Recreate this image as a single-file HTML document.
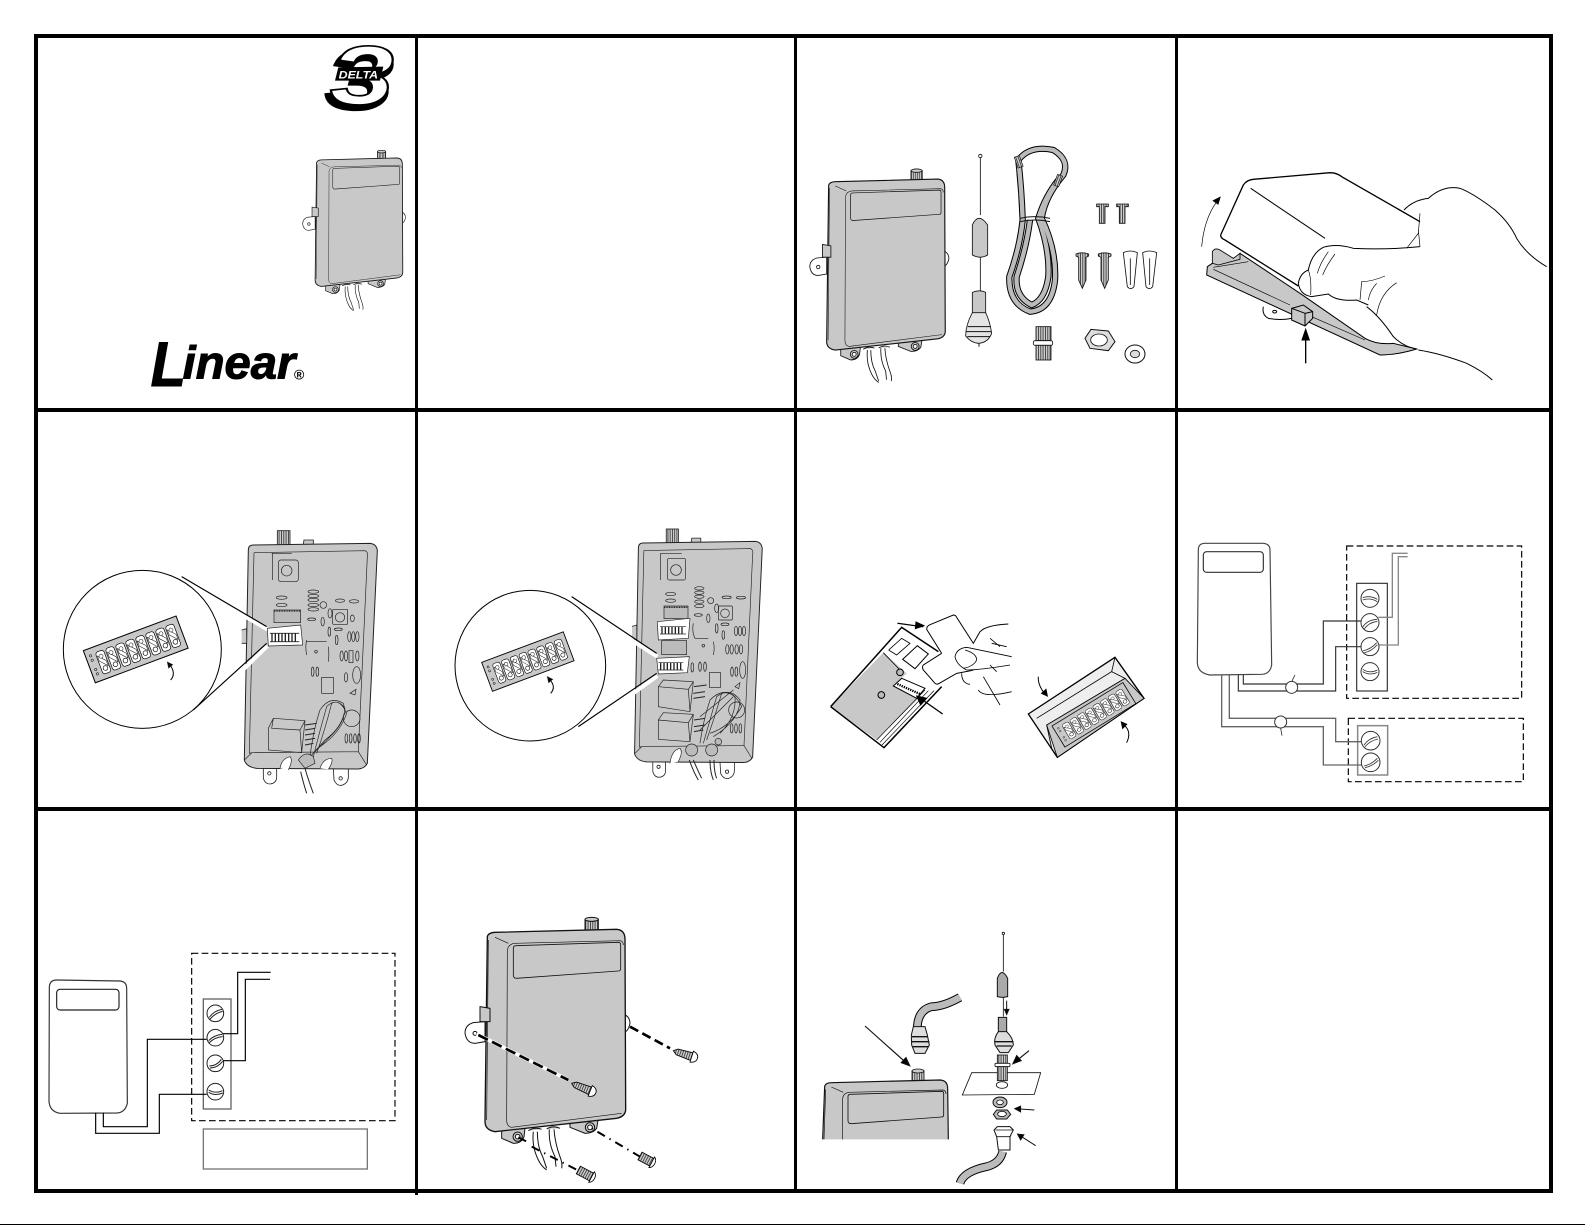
<!DOCTYPE html>
<html><head><meta charset="utf-8"><title>Diagram</title>
<style>html,body{margin:0;padding:0;background:#fff;width:1585px;height:1225px;overflow:hidden}svg{display:block;overflow:hidden}text{font-family:"Liberation Sans",sans-serif}</style></head>
<body>
<svg xmlns="http://www.w3.org/2000/svg" width="1585" height="1225" viewBox="0 0 1585 1225">
<defs>
<pattern id="h" width="7" height="7" patternUnits="userSpaceOnUse"><rect width="7" height="7" fill="#ccc"/><rect width="2.5" height="7" fill="#333"/></pattern>
<g id="dev" fill="none" stroke="#111" stroke-width="3">
 <path d="M105,365L70,368Q45,375 45,400Q50,430 75,430L105,425Z" fill="#fff"/>
 <circle cx="75" cy="400" r="6" fill="#fff"/>
 <path d="M520,342Q540,350 540,370Q535,395 520,398Z" fill="#fff"/>
 <path d="M155,690L155,715L190,730Q215,730 222,710L225,685Z" fill="#c8c8c8"/>
 <path d="M360,665L360,682L405,700Q430,700 440,685L445,655Z" fill="#c8c8c8"/>
 <path d="M250,695Q245,740 265,780Q275,800 290,810M262,695Q262,740 278,770Q285,790 290,805M298,688Q295,730 315,770L318,800M312,688Q315,730 330,770Q338,790 335,805" stroke-width="3"/>
 <rect x="405" y="58" width="40" height="42" fill="url(#h)"/>
 <ellipse cx="425" cy="58" rx="20" ry="6" fill="#ccc"/>
 <path d="M112,110Q115,98 135,97L500,88Q525,90 525,118L527,630Q525,650 500,655L135,695Q105,690 105,665Z" fill="#c8c8c8" stroke-width="4"/>
 <path d="M172,150Q175,132 195,130L510,122Q520,124 520,135M172,150L170,660Q170,680 185,682L515,640M135,112L175,130M115,120L110,660" stroke-width="2"/>
 <path d="M190,145Q190,137 198,137L505,127Q512,127 512,135L512,205Q512,213 505,213L200,235Q190,235 190,225Z" stroke-width="2.5"/>
 <path d="M90,320L120,325L120,365L90,365Z" fill="#c8c8c8"/>
 <circle cx="203" cy="710" r="14" fill="#c8c8c8"/><circle cx="203" cy="710" r="7" fill="#fff"/>
 <circle cx="420" cy="682" r="14" fill="#c8c8c8"/><circle cx="420" cy="682" r="7" fill="#fff"/>
 <path d="M235,692Q255,680 275,688M290,687Q310,675 330,685" fill="#c8c8c8"/>
</g>
<g id="sw">
 <rect x="-1" y="0" width="26" height="70" rx="8" fill="#fff" stroke="#000" stroke-width="2"/>
 <path d="M2,12L22,34L22,50L2,28Z" fill="#fff" stroke="#000" stroke-width="1.5"/>
 <circle cx="12" cy="54" r="7" fill="#fff" stroke="#000" stroke-width="2"/>
 <circle cx="12" cy="16" r="6" fill="#fff" stroke="#000" stroke-width="1.5"/>
</g>
<g id="strip">
 <rect x="0" y="0" width="297" height="103" fill="#c8c8c8" stroke="#000" stroke-width="3"/>
 <circle cx="15" cy="22" r="3.5" fill="none" stroke="#000" stroke-width="1.5"/><circle cx="15" cy="36" r="3.5" fill="none" stroke="#000" stroke-width="1.5"/><circle cx="15" cy="66" r="3.5" fill="none" stroke="#000" stroke-width="1.5"/><circle cx="15" cy="80" r="3.5" fill="none" stroke="#000" stroke-width="1.5"/>
 <use href="#sw" x="32" y="18"/><use href="#sw" x="64" y="18"/><use href="#sw" x="96" y="18"/><use href="#sw" x="128" y="18"/><use href="#sw" x="160" y="18"/><use href="#sw" x="192" y="18"/><use href="#sw" x="224" y="18"/><use href="#sw" x="256" y="18"/>
</g>
<g id="shell" fill="none" stroke="#222" stroke-width="2.5">
 <rect x="682" y="2" width="38" height="45" fill="url(#h)"/>
 <path d="M760,42L762,30L790,30L790,42" fill="#c8c8c8"/>
 <path d="M640,712L640,745Q645,762 660,762Q680,760 680,740L680,712Z" fill="#fff"/><circle cx="658" cy="730" r="5" fill="#fff"/>
 <path d="M850,715L852,750Q860,768 875,766Q895,760 895,740L895,712Z" fill="#fff"/><circle cx="872" cy="745" r="5" fill="#fff"/>
 <path d="M595,60Q595,45 610,45L960,40Q980,42 982,62L952,700Q945,715 925,717L620,715Q590,712 583,690Z" fill="#c8c8c8" stroke-width="3"/>
 <path d="M612,68L945,62Q955,66 952,80L925,665L606,668L597,670M612,68L598,670M606,668L583,690M925,665L950,705" stroke-width="2"/>
 <path d="M575,300L590,296L590,340L575,340" fill="#c8c8c8"/>
</g>
</defs>
<rect width="1585" height="1225" fill="#fff"/>

<!-- Panel 1 -->
<g transform="translate(40,30) scale(.33333)">
 <use href="#dev" transform="translate(760,328) scale(.623,.635)"/>
 <text x="858" y="235" font-size="250" font-weight="bold" font-style="italic" textLength="200" lengthAdjust="spacingAndGlyphs" fill="#000" stroke="#000" stroke-width="10">3</text>
 <text x="870" y="222" font-size="250" font-weight="bold" font-style="italic" textLength="192" lengthAdjust="spacingAndGlyphs" fill="#fff" stroke="#000" stroke-width="5">3</text>
 <path d="M895,112L1030,110L1020,152L885,152Z" fill="#000"/>
 <text x="896" y="146" font-size="33" font-weight="bold" font-style="italic" textLength="118" lengthAdjust="spacingAndGlyphs" fill="#fff">DELTA</text>
 <text x="332" y="1068" font-size="190" font-weight="bold" font-style="italic" textLength="106" lengthAdjust="spacingAndGlyphs" stroke="#000" stroke-width="3">L</text>
 <text x="428" y="1046" font-size="140" font-weight="bold" font-style="italic" textLength="338" lengthAdjust="spacingAndGlyphs" stroke="#000" stroke-width="3">inear</text>
 <text x="762" y="1048" font-size="42" font-weight="bold">®</text>
</g>

<!-- Panel 3 -->
<g transform="translate(800,130) scale(.33333)" fill="none" stroke="#111" stroke-width="2.5">
 <use href="#dev" transform="translate(-8.5,73) scale(.843,.845)"/>
 <circle cx="541" cy="78" r="5"/><path d="M541,84V255M541,380V485"/>
 <path d="M517,375V285Q535,245 563,285V375Q541,388 517,375Z" fill="#c8c8c8"/>
 <path d="M517,550V487Q540,478 557,487V550Z" fill="#c8c8c8"/>
 <path d="M517,548Q497,585 497,618Q515,640 537,640Q565,637 575,610Q570,575 557,548Z" fill="#e4e4e4"/>
 <path d="M503,590L570,590M498,605L574,605M502,620L570,620M537,640V650" stroke-width="3"/>
 <g stroke="#000" stroke-width="19"><path d="M655,90Q690,45 760,60Q810,90 790,135Q735,200 725,265Q770,360 765,450Q755,540 690,545Q625,520 628,440Q660,350 668,270Q665,180 655,90Z"/><path d="M775,150Q735,200 715,265Q750,360 745,440Q735,510 695,525Q645,500 650,440Q680,350 690,270"/></g>
 <g stroke="#bbb" stroke-width="13"><path d="M655,90Q690,45 760,60Q810,90 790,135Q735,200 725,265Q770,360 765,450Q755,540 690,545Q625,520 628,440Q660,350 668,270Q665,180 655,90Z"/><path d="M775,150Q735,200 715,265Q750,360 745,440Q735,510 695,525Q645,500 650,440Q680,350 690,270"/></g>
 <path d="M660,265Q705,255 750,265M660,275Q705,265 750,275" stroke-width="3"/>
 <rect x="648" y="78" width="16" height="34" fill="url(#h)" stroke-width="2" transform="rotate(-20 657 95)"/>
 <rect x="767" y="135" width="16" height="34" fill="url(#h)" stroke-width="2" transform="rotate(20 775 150)"/>
 <path d="M890,222H925V230H915V280H898V230H890Z" fill="url(#h)"/><path d="M950,222H985V230H975V280H958V230H950Z" fill="url(#h)"/>
 <path d="M828,372Q845,365 866,372V378L858,382V450L847,475L836,450V382L828,378Z" fill="url(#h)"/>
 <path d="M895,372Q912,365 933,372V378L925,382V450L914,475L903,450V382L895,378Z" fill="url(#h)"/>
 <path d="M970,368Q990,358 1012,368L1002,470Q992,482 982,470Z" fill="#fff"/><path d="M991,385V465"/>
 <path d="M1028,368Q1048,358 1070,368L1058,470Q1048,482 1038,470Z" fill="#fff"/><path d="M1049,385V465"/>
 <rect x="708" y="590" width="45" height="42" fill="url(#h)"/><rect x="700" y="632" width="58" height="14" rx="5" fill="#fff"/><rect x="708" y="646" width="45" height="44" fill="url(#h)"/>
 <path d="M873,598L925,603L945,635L925,662L870,655L855,625Z" fill="#ddd" stroke-width="3"/><ellipse cx="897" cy="630" rx="25" ry="18" fill="#fff"/>
 <ellipse cx="1005" cy="672" rx="30" ry="27" fill="#fff" stroke-width="3"/><ellipse cx="1005" cy="672" rx="14" ry="11" fill="#ddd"/>
</g>

<!-- Panel 4 -->
<g transform="translate(1180,150) scale(.33333)" fill="none" stroke="#000" stroke-width="3">
 <path d="M82,350L80,375L600,615Q650,615 710,597L640,580Q590,585 555,565L360,430L180,310L165,325L120,320L97,340Z" fill="#c8c8c8"/>
 <path d="M97,340L97,305Q105,292 120,300L160,325L180,310L180,328L115,345Z" fill="#c8c8c8" stroke-width="2.5"/>
 <path d="M100,352L205,335M100,358L330,465M395,500L555,570" stroke-width="2"/>
 <path d="M250,470Q245,495 265,505Q300,512 335,505" fill="#fff"/><ellipse cx="284" cy="485" rx="6" ry="4"/>
 <path d="M335,475L370,465L398,485V505L375,528L335,510Z" fill="#c8c8c8" stroke-width="3"/><path d="M335,475L375,490V528M375,490L398,485"/>
 <path d="M122,255L190,105Q200,90 220,88L450,68Q470,68 485,80L720,215M122,255Q122,265 135,270L355,408" stroke-width="4"/>
 <path d="M212,115L435,265"/>
 <path d="M672,180Q700,150 745,145Q790,105 840,115Q880,130 945,180Q990,220 1010,265Q1040,315 1100,350M715,600Q780,610 860,640Q910,665 937,690M560,470Q600,500 640,560Q670,590 710,597"/>
 <path d="M720,290Q620,300 520,295Q470,280 430,292Q395,310 385,360Q360,370 355,400Q360,435 395,440L445,432Q470,455 530,450L565,465"/>
 <path d="M720,190L715,250L680,295M715,240L720,290M445,305Q420,340 412,370M465,312Q440,345 428,375M385,360Q395,385 392,435M615,378Q575,395 545,395L540,450M650,398Q600,430 590,495M590,400Q570,420 565,450" stroke-width="2"/>
 <path d="M377,640V565" stroke-width="4"/><path d="M377,538L366,570H388Z" fill="#000"/>
 <path d="M65,290Q72,210 108,158" stroke-width="2"/><path d="M120,142L100,152L114,162Z" fill="#000"/>
</g>

<!-- Panel 5 -->
<g transform="translate(50,530) scale(.33333)" fill="none" stroke="#222" stroke-width="2">
 <use href="#shell"/>
 <g>
  <rect x="685" y="90" width="60" height="65" rx="8" fill="#c8c8c8"/><circle cx="710" cy="122" r="16"/><path d="M665,70H725M668,70V150"/>
  <rect x="672" y="240" width="80" height="38" fill="#bbb"/><path d="M672,243H752" stroke-dasharray="3,2" stroke-width="4"/>
  <ellipse cx="695" cy="203" rx="16" ry="5"/><ellipse cx="695" cy="225" rx="16" ry="5"/>
  <ellipse cx="790" cy="185" rx="16" ry="5"/><ellipse cx="790" cy="198" rx="16" ry="5"/><ellipse cx="790" cy="210" rx="16" ry="5"/><ellipse cx="790" cy="225" rx="16" ry="5"/><ellipse cx="790" cy="238" rx="16" ry="5"/>
  <rect x="848" y="238" width="45" height="45" rx="3"/><circle cx="870" cy="262" r="14"/><circle cx="820" cy="225" r="10"/><ellipse cx="840" cy="250" rx="6" ry="14"/><ellipse cx="907" cy="265" rx="6" ry="10"/>
  <ellipse cx="870" cy="212" rx="14" ry="5"/><ellipse cx="912" cy="214" rx="14" ry="5"/><ellipse cx="785" cy="268" rx="12" ry="4"/><ellipse cx="818" cy="275" rx="5" ry="13"/>
  <ellipse cx="838" cy="305" rx="4" ry="14"/><ellipse cx="860" cy="330" rx="4" ry="14"/><ellipse cx="865" cy="298" rx="12" ry="4"/>
  <ellipse cx="898" cy="320" rx="5" ry="15"/><ellipse cx="910" cy="320" rx="5" ry="15"/><ellipse cx="922" cy="320" rx="5" ry="15"/>
  <ellipse cx="875" cy="378" rx="5" ry="15"/><ellipse cx="888" cy="378" rx="5" ry="15"/><rect x="897" y="362" width="12" height="36"/><ellipse cx="922" cy="378" rx="5" ry="15"/>
  <ellipse cx="788" cy="425" rx="4" ry="14"/><ellipse cx="802" cy="425" rx="4" ry="14"/>
  <path d="M770,330Q765,350 770,375M835,350Q838,370 835,395M770,335H830"/><circle cx="798" cy="365" r="4"/>
  <rect x="815" y="442" width="35" height="48"/><ellipse cx="888" cy="442" rx="5" ry="14"/><ellipse cx="920" cy="435" rx="12" ry="25"/><path d="M900,490L918,478L915,495Z"/>
  <ellipse cx="889" cy="625" rx="4" ry="14"/><ellipse cx="902" cy="625" rx="4" ry="14"/><ellipse cx="915" cy="625" rx="4" ry="14"/><ellipse cx="927" cy="625" rx="4" ry="14"/>
  <path d="M655,595L670,565L765,572L755,668L655,660ZM670,565L665,595L750,600L755,668M750,600L765,572"/>
  <path d="M765,585L800,580M765,600L795,595M765,615L795,610M765,630L795,625M765,645L790,640" stroke-width="3"/>
  <path d="M780,680Q790,600 810,540Q840,495 880,520Q895,560 850,610L790,670M790,680Q810,600 830,530Q860,500 885,535Q880,590 825,630L785,675M800,670Q825,600 845,520Q870,505 890,550Q870,610 810,650" fill="none"/><circle cx="905" cy="565" r="25"/>
  <path d="M745,690Q765,660 790,680L795,700L765,715Z" fill="#bbb"/><path d="M765,715Q775,750 790,790M752,725Q760,760 770,790" stroke-width="3"/>
  <path d="M690,715Q695,685 720,680Q730,690 715,720M810,715Q820,685 845,685Q850,695 835,718" fill="#fff"/>
 </g>
 <path d="M430,170L652,298M450,545L652,348" stroke="#fff" stroke-width="12"/>
 <path d="M395,140L650,290M430,540L650,340" stroke="#000" stroke-width="3.5"/>
 <circle cx="277" cy="358" r="237" fill="#fff" stroke="#000" stroke-width="3"/>
 <path d="M652,295L752,285L758,345L655,348Z" fill="#fff"/>
 <g stroke-width="2.5"><path d="M660,310H748M660,335H748"/><path d="M666,310V335M676,310V335M686,310V335M696,310V335M706,310V335M716,310V335M726,310V335M736,310V335" stroke-width="4"/></g>
 <use href="#strip" transform="translate(100,362) rotate(-20.5)"/>
 <path d="M362,450Q380,430 358,402" stroke="#000" stroke-width="3"/><path d="M352,396L368,404L356,414Z" fill="#000"/>
</g>

<!-- Panel 6 -->
<g transform="translate(440,530) scale(.33333)" fill="none" stroke="#222" stroke-width="2">
 <use href="#shell" transform="translate(24,-5) scale(.96,.98)"/>
 <rect x="682" y="85" width="55" height="65" rx="6" fill="#c8c8c8"/><circle cx="708" cy="120" r="16"/><path d="M660,70H725M662,72V150"/>
 <rect x="672" y="228" width="72" height="38" fill="#bbb"/><path d="M672,232H744" stroke-dasharray="3,2" stroke-width="4"/>
 <rect x="665" y="332" width="75" height="42" fill="#bbb"/>
 <path d="M652,275L750,265L745,325L655,330Z" fill="#fff"/><path d="M660,290H738M660,312H738"/><path d="M666,290V312M676,290V312M686,290V312M696,290V312M706,290V312M716,290V312M726,290V312" stroke-width="4"/>
 <ellipse cx="692" cy="192" rx="15" ry="5"/><ellipse cx="692" cy="212" rx="15" ry="5"/>
 <ellipse cx="778" cy="175" rx="14" ry="5"/><ellipse cx="778" cy="188" rx="14" ry="5"/><ellipse cx="778" cy="200" rx="14" ry="5"/><ellipse cx="778" cy="215" rx="14" ry="5"/><ellipse cx="778" cy="228" rx="14" ry="5"/>
 <rect x="835" y="228" width="42" height="42" rx="3"/><circle cx="855" cy="250" r="13"/><circle cx="812" cy="212" r="9"/><ellipse cx="830" cy="235" rx="6" ry="13"/>
 <ellipse cx="860" cy="202" rx="14" ry="4"/><ellipse cx="903" cy="203" rx="14" ry="4"/><ellipse cx="775" cy="255" rx="12" ry="4"/><ellipse cx="805" cy="265" rx="5" ry="13"/><ellipse cx="830" cy="295" rx="4" ry="14"/><ellipse cx="850" cy="315" rx="4" ry="13"/><ellipse cx="855" cy="283" rx="12" ry="4"/>
 <ellipse cx="888" cy="303" rx="5" ry="14"/><ellipse cx="900" cy="303" rx="5" ry="14"/><ellipse cx="912" cy="303" rx="5" ry="14"/>
 <ellipse cx="862" cy="358" rx="5" ry="14"/><ellipse cx="875" cy="358" rx="5" ry="14"/><ellipse cx="890" cy="358" rx="5" ry="14"/><ellipse cx="903" cy="358" rx="5" ry="14"/>
 <ellipse cx="876" cy="425" rx="4" ry="14"/><ellipse cx="889" cy="425" rx="4" ry="14"/><ellipse cx="908" cy="420" rx="9" ry="25"/>
 <path d="M760,280Q755,305 765,325H805M820,335Q825,355 820,375"/><circle cx="790" cy="347" r="4"/>
 <rect x="808" y="428" width="34" height="44"/><path d="M885,470L900,458L896,476Z"/>
 <ellipse cx="757" cy="412" rx="4" ry="14"/><ellipse cx="780" cy="410" rx="4" ry="14"/><ellipse cx="795" cy="410" rx="4" ry="14"/>
 <path d="M655,470L670,450L760,455L750,545L655,530Z M655,470L745,478L750,545M745,478L760,455"/>
 <path d="M655,570L670,548L760,553L750,635L655,628Z M655,570L745,578L750,635M745,578L760,553"/>
 <path d="M762,470L800,465M760,490L795,485M760,505L795,500M762,570L795,565M762,590L795,585M762,605L790,600" stroke-width="3"/>
 <path d="M780,640Q790,570 810,510Q850,470 885,500Q890,560 840,610M790,640Q810,570 830,500Q870,470 900,510Q900,570 820,620M800,630Q825,560 845,490Q880,480 905,530Q870,590 810,610M780,560L880,480M780,600L880,500"/><circle cx="890" cy="540" r="24"/>
 <ellipse cx="875" cy="595" rx="4" ry="14"/><ellipse cx="888" cy="595" rx="4" ry="14"/><ellipse cx="901" cy="595" rx="4" ry="14"/>
 <circle cx="755" cy="660" r="18" fill="#bbb"/><circle cx="815" cy="660" r="18" fill="#bbb"/><circle cx="835" cy="635" r="10" fill="#bbb"/>
 <path d="M748,690Q760,725 775,750M760,690Q775,725 785,745M810,690Q810,725 820,750M822,690Q822,725 830,745" stroke-width="3"/>
 <path d="M690,700Q695,660 720,655Q730,665 715,695" fill="#fff"/>
 <path d="M425,235L652,380M440,590L652,438" stroke="#fff" stroke-width="12"/>
 <path d="M395,200L650,370M415,590L650,430" stroke="#000" stroke-width="3.5"/>
 <circle cx="271" cy="407" r="226" fill="#fff" stroke="#000" stroke-width="3"/>
 <path d="M650,385L748,380L742,428L655,432Z" fill="#fff"/><path d="M655,398H730M655,420H730"/><path d="M662,398V420M672,398V420M682,398V420M692,398V420M702,398V420M712,398V420M722,398V420" stroke-width="4"/>
 <use href="#strip" transform="translate(125,397) rotate(-20.5) scale(.88,.9)"/>
 <path d="M332,490Q350,470 328,448" stroke="#000" stroke-width="3"/><path d="M322,440L338,448L326,458Z" fill="#000"/>
</g>

<!-- Panel 7 -->
<g transform="translate(810,590) scale(.33333)" fill="none" stroke="#000" stroke-width="3">
 <path d="M62,350L220,188L290,250L250,288L322,328L200,450Z" fill="#c8c8c8" stroke="none"/>
 <path d="M62,350L275,112L385,185M395,290L222,473L62,350" stroke-width="4.5"/>
 <path d="M200,450L345,300M210,457L355,302M216,465L372,302" stroke-width="2"/>
 <path d="M220,188L270,240M236,180L275,145L300,160L260,195L236,180" stroke-width="2.5"/>
 <path d="M278,208L322,167L355,192L315,236Z" stroke-width="3"/>
 <circle cx="270" cy="247" r="10" fill="#bbb"/><circle cx="214" cy="315" r="10" fill="#bbb"/>
 <path d="M250,288L275,265L345,295L320,325Z" fill="#fff"/><path d="M262,282L330,312" stroke-width="7" stroke-dasharray="4,3"/>
 <path d="M262,105L340,105" stroke-width="3.5" transform="rotate(8 300 105)"/><path d="M342,107L318,96L316,116Z" fill="#000"/>
 <path d="M398,372L338,330" stroke-width="4"/><path d="M320,318L332,345L350,325Z" fill="#000"/>
 <path d="M350,118Q350,108 360,104L430,75Q437,75 440,82L490,160L510,125Q530,105 595,102M395,190L340,225Q335,232 340,240L375,280Q380,285 388,280L440,250Q470,245 490,240M350,118L395,190" fill="#fff" stroke-width="3"/>
 <path d="M470,240Q440,225 435,200Q440,175 470,172L605,200M470,240Q510,240 600,225M465,180Q500,190 500,210Q490,230 460,235M540,145L570,170M545,160L590,170M540,225L560,245M520,260L570,345M505,300Q520,325 605,305M455,250Q455,280 480,283" stroke-width="2.5"/>
 <path d="M655,372L915,202L1002,325L742,502Z" fill="#eee" stroke-width="4"/>
 <path d="M710,405L945,265L1002,325L742,502Z" fill="#c8c8c8" stroke-width="2.5"/>
 <path d="M680,385L905,245L915,202M905,245L945,265M710,405L725,475L742,502" stroke-width="2.5"/>
 <use href="#strip" transform="translate(726,408) rotate(-31.5) scale(.84,.72)" opacity=".95"/>
 <path d="M685,260Q683,285 705,312" stroke-width="3"/><path d="M712,318L695,310L708,298Z" fill="#000"/>
 <path d="M950,458Q966,425 942,405" stroke-width="3"/><path d="M934,396L950,403L938,415Z" fill="#000"/>
</g>

<!-- Panel 8 -->
<g transform="translate(1180,530) scale(.33333)" fill="none" stroke="#333" stroke-width="3.5">
 <path d="M55,60Q55,40 75,40L250,40Q270,42 270,60L275,405Q270,432 245,433L90,435Q55,430 52,400Z" stroke="#444"/>
 <rect x="70" y="65" width="180" height="62" rx="10"/>
 <rect x="500" y="48" width="525" height="457" stroke="#000" stroke-dasharray="20,10"/>
 <rect x="505" y="565" width="525" height="190" stroke="#000" stroke-dasharray="20,10"/>
 <rect x="530" y="160" width="92" height="323"/>
 <rect x="533" y="587" width="90" height="148" stroke="#888" stroke-width="4.5"/>
 <path d="M175,435V483H467V350H545M190,435V462H430V273H545"/>
 <path d="M125,435V590H430V705H545M148,435V565H467V635H545" stroke="#666" stroke-width="4"/>
 <path d="M595,262H637V70H683M597,345H655V80H683" stroke="#888" stroke-width="4"/>
 <g fill="#fff" stroke="#333" stroke-width="3">
  <circle cx="570" cy="205" r="27"/><circle cx="570" cy="278" r="27"/><circle cx="570" cy="350" r="27"/><circle cx="570" cy="425" r="27"/>
  <circle cx="572" cy="632" r="28"/><circle cx="572" cy="697" r="28"/>
  <circle cx="335" cy="472" r="18"/><circle cx="302" cy="576" r="18"/>
 </g>
 <g stroke-width="2.5">
  <path d="M548,203Q570,195 592,208M548,210Q570,202 592,215"/><path d="M548,292Q560,270 592,268M552,298Q565,278 592,274"/><path d="M550,362Q572,358 590,338M553,368Q575,364 592,344"/><path d="M548,418Q570,432 592,420M548,425Q570,438 592,427"/>
  <path d="M552,645Q565,625 592,620M555,650Q570,632 594,627"/><path d="M552,708Q575,703 592,685M555,713Q578,708 595,691"/>
  <path d="M335,455L345,435M302,595L306,617"/>
 </g>
</g>

<!-- Panel 9 -->
<g transform="translate(40,930) scale(.33333)" fill="none" stroke="#222" stroke-width="3.5">
 <path d="M28,170Q30,150 50,150L240,153Q260,155 260,175L262,520Q255,548 230,549L60,550Q30,545 27,515Z" stroke="#333"/>
 <rect x="50" y="178" width="187" height="62" rx="10"/>
 <rect x="455" y="70" width="610" height="502" stroke="#000" stroke-dasharray="20,10"/>
 <rect x="490" y="207" width="83" height="330" stroke="#666" stroke-width="4"/>
 <path d="M190,548V590H322V328H500M167,548V610H358V493H500M545,311H593V127H692M548,392H616V148H690" stroke="#000"/>
 <rect x="490" y="597" width="492" height="120" stroke="#777" stroke-width="4"/>
 <g fill="#fff" stroke="#222" stroke-width="3"><circle cx="526" cy="250" r="25"/><circle cx="526" cy="323" r="25"/><circle cx="526" cy="400" r="25"/><circle cx="526" cy="485" r="25"/></g>
 <g stroke-width="3"><path d="M508,262Q522,242 546,238M510,268Q526,248 548,244"/><path d="M506,332Q522,315 546,313M508,338Q524,322 548,320"/><path d="M508,408Q530,408 544,388M510,414Q532,414 548,394"/><path d="M506,480Q526,492 548,482M506,487Q526,499 548,489"/></g>
</g>

<!-- Panel 10 -->
<g transform="translate(450,900) scale(.33333)" fill="none" stroke="#000" stroke-width="2.5">
 <use href="#dev"/>
 <path d="M80,402L355,540" stroke="#fff" stroke-width="11"/>
 <path d="M85,405L355,540" stroke-width="8" stroke-dasharray="32,14"/>
 <path d="M540,380L660,445" stroke-width="8" stroke-dasharray="28,14"/>
 <path d="M205,712L240,730M245,740L405,822" stroke-width="6" stroke-dasharray="26,16,4,16"/>
 <path d="M425,685L570,770" stroke-width="6" stroke-dasharray="4,16,26,16"/>
 <g transform="translate(365,550) rotate(22)"><path d="M0,0L12,-9L60,-12V12L12,9Z" fill="url(#h)"/><path d="M60,-17Q78,-14 78,0Q78,14 60,17Z" fill="#fff"/></g>
 <g transform="translate(670,452) rotate(18)"><path d="M0,0L12,-9L58,-12V12L12,9Z" fill="url(#h)"/><path d="M58,-17Q76,-14 76,0Q76,14 58,17Z" fill="#fff"/></g>
 <g transform="translate(570,768) rotate(28)"><path d="M0,-13L40,-13V13L0,13Z" fill="url(#h)"/><path d="M40,-18Q50,-13 50,0Q50,13 40,18Z" fill="#fff"/></g>
 <g transform="translate(385,810) rotate(28)"><path d="M0,-13L45,-13V13L0,13Z" fill="url(#h)"/><path d="M45,-18Q55,-13 55,0Q55,13 45,18Z" fill="#fff"/></g>
</g>

<!-- Panel 11 -->
<g transform="translate(800,910) scale(.33333)" fill="none" stroke="#111" stroke-width="2.5">
 <rect x="336" y="483" width="36" height="38" fill="url(#h)"/><ellipse cx="354" cy="483" rx="18" ry="6" fill="#ccc"/>
 <path d="M68,688L74,529Q77,518 94,518L420,510Q443,511 443,536L445,688Z" fill="#c8c8c8" stroke="none"/>
 <path d="M68,688L74,529Q77,518 94,518L420,510Q443,511 443,536L445,688" stroke-width="3.5"/>
 <path d="M128,688V565Q130,549 148,547L429,540Q438,542 438,552M94,531L130,547M77,538L72,688" stroke-width="2"/>
 <path d="M144,560Q144,553 151,553L425,544Q431,544 431,551L431,614Q431,621 425,621L153,641Q144,641 144,632Z" stroke-width="2.5"/>
 <path d="M195,348L318,458" stroke-width="3.5"/><path d="M330,468L318,442L303,458Z" fill="#000"/>
 <path d="M480,262Q430,290 395,290Q355,300 352,350" stroke="#000" stroke-width="26"/><path d="M480,262Q430,290 395,290Q355,300 352,350" stroke="#bbb" stroke-width="20"/>
 <path d="M340,350H375L382,375L388,405L375,430H345L335,405L334,375Z" fill="#ddd" stroke-width="3"/><path d="M336,380H384M334,395H388M338,410H384" stroke-width="4"/>
 <circle cx="610" cy="70" r="3.5"/><path d="M610,74V185M610,260V320"/>
 <path d="M592,260V205Q605,170 623,205V260Q607,264 592,260Z" fill="#aaa" stroke-width="3"/>
 <path d="M620,272V302" stroke-width="3"/><path d="M620,314L613,298H627Z" fill="#000"/>
 <path d="M595,322H620V370H595Z" fill="#aaa" stroke-width="3"/>
 <path d="M595,365Q580,385 585,405L600,428H625L640,405Q640,385 620,365Z" fill="#ddd" stroke-width="3"/><path d="M585,395H640M590,408H635" stroke-width="4"/>
 <polygon points="515,488 722,488 703,553 487,555" fill="#fff"/>
 <rect x="592" y="435" width="30" height="25" fill="url(#h)"/><rect x="585" y="460" width="45" height="10" rx="3" fill="#fff"/><rect x="592" y="470" width="30" height="42" fill="url(#h)"/>
 <ellipse cx="606" cy="525" rx="17" ry="10" fill="#fff"/>
 <ellipse cx="600" cy="577" rx="21" ry="16" fill="#bbb" stroke-width="3"/><ellipse cx="600" cy="577" rx="10" ry="7" fill="#fff"/>
 <path d="M590,600L622,600L632,613L620,627L590,627L580,613Z" fill="#bbb" stroke-width="3"/><ellipse cx="606" cy="612" rx="13" ry="8" fill="#fff"/>
 <path d="M608,725Q600,760 560,770Q490,785 480,820" stroke="#000" stroke-width="26"/><path d="M608,725Q600,760 560,770Q490,785 480,820" stroke="#bbb" stroke-width="20"/>
 <path d="M592,650H630L640,660L630,680V720H595L590,680L582,660Z" fill="#fff" stroke-width="3"/><path d="M590,680H632M586,660H638"/>
 <path d="M687,422L650,452" stroke-width="3.5"/><path d="M638,462L664,452L650,436Z" fill="#000"/>
 <path d="M703,600L660,597" stroke-width="3"/><path d="M644,596L662,588V606Z" fill="#000"/>
 <path d="M707,707L665,680" stroke-width="3"/><path d="M652,672L672,674L662,690Z" fill="#000"/>
</g>

<!-- Grid lines -->
<g fill="#000">
 <rect x="34" y="34" width="1519" height="4"/>
 <rect x="34" y="408" width="1519" height="4"/>
 <rect x="34" y="807" width="1519" height="4"/>
 <rect x="34" y="1189" width="1519" height="4"/>
 <rect x="34" y="34" width="4" height="1159"/>
 <rect x="1549" y="34" width="4" height="1159"/>
 <rect x="415" y="34" width="3" height="1161"/>
 <rect x="794" y="34" width="3" height="1159"/>
 <rect x="1175" y="34" width="3" height="1159"/>
 <rect x="0" y="1224" width="1585" height="1"/>
</g>
</svg>
</body></html>
